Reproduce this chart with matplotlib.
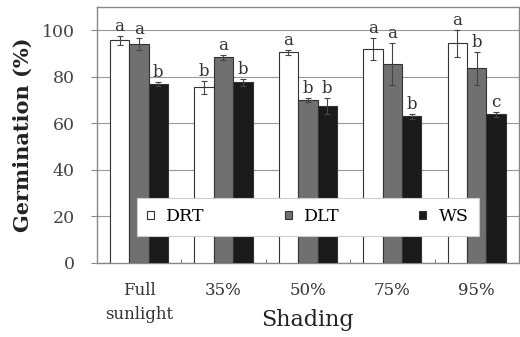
import numpy as np
import matplotlib.pyplot as plt

groups = ['Full\nsunlight', '35%', '50%', '75%', '95%']
series = ['DRT', 'DLT', 'WS']
drt = [95.7, 75.5, 90.6, 92.0, 94.4]
dlt = [94.0, 88.4, 70.0, 85.4, 83.7]
ws = [77.0, 77.7, 67.4, 63.0, 63.9]
drt_err = [1.8, 2.8, 1.0, 4.9, 5.9]
dlt_err = [2.5, 1.0, 1.0, 9.0, 7.0]
ws_err = [0.8, 1.5, 3.5, 1.0, 1.0]
drt_lbl = ['a', 'b', 'a', 'a', 'a']
dlt_lbl = ['a', 'a', 'b', 'a', 'b']
ws_lbl = ['b', 'b', 'b', 'b', 'c']

colors = ['white', '#707070', '#1a1a1a']
plt.rcParams['font.family'] = ['DejaVu Serif']

fig = plt.figure(figsize=(5.2, 3.37), dpi=100)
ax = fig.add_axes([0.186, 0.22, 0.812, 0.759])

x = np.arange(len(groups))
w = 0.23
vals = [drt, dlt, ws]
errs = [drt_err, dlt_err, ws_err]
lbls = [drt_lbl, dlt_lbl, ws_lbl]
for i in range(3):
    pos = x + (i - 1) * w
    ax.bar(pos, vals[i], w, color=colors[i], edgecolor='#333333', linewidth=0.8,
           label=series[i], zorder=3)
    ax.errorbar(pos, vals[i], yerr=errs[i], fmt='none', ecolor='#444444',
                elinewidth=0.8, capsize=2.5, capthick=0.8, zorder=4)
    for p, v, e, t in zip(pos, vals[i], errs[i], lbls[i]):
        ax.text(p, v + e + 0.4, t, ha='center', va='bottom', fontsize=12,
                color='#333333', zorder=5)

ax.set_ylim(0, 110)
ax.set_xlim(-0.5, len(groups) - 0.5)
ax.set_yticks([0, 20, 40, 60, 80, 100])
ax.yaxis.grid(True, color='#999999', linewidth=0.8, zorder=0)
ax.set_xticks(x)
ax.set_xticklabels(groups, fontsize=12, color='#333333', linespacing=1.5)
ax.set_xticks(x[:-1] + 0.5, minor=True)
ax.tick_params(axis='x', which='major', length=0, pad=14)
ax.tick_params(axis='x', which='minor', direction='in', length=3, color='#666666')
ax.tick_params(axis='y', labelsize=12.5, labelcolor='#444444', color='#888888',
               length=4, pad=12)
for s in ax.spines.values():
    s.set_color('#888888')
    s.set_linewidth(1.0)

ax.set_ylabel('Germination (%)', fontsize=15, fontweight='bold', color='#222222',
              labelpad=6)
ax.set_xlabel('Shading', fontsize=16, color='#222222')
ax.xaxis.set_label_coords(0.5, -0.18)

leg = ax.legend(ncol=3, loc='center', bbox_to_anchor=(0.5, 0.18), fontsize=12.5,
                frameon=True, fancybox=False, edgecolor='#cccccc', framealpha=1,
                handlelength=0.4, handleheight=0.4, columnspacing=4.6,
                borderpad=0.6, handletextpad=0.7, borderaxespad=0)
leg.get_frame().set_linewidth(0.8)
leg.set_zorder(6)

fig.savefig('out.png', dpi=100)
